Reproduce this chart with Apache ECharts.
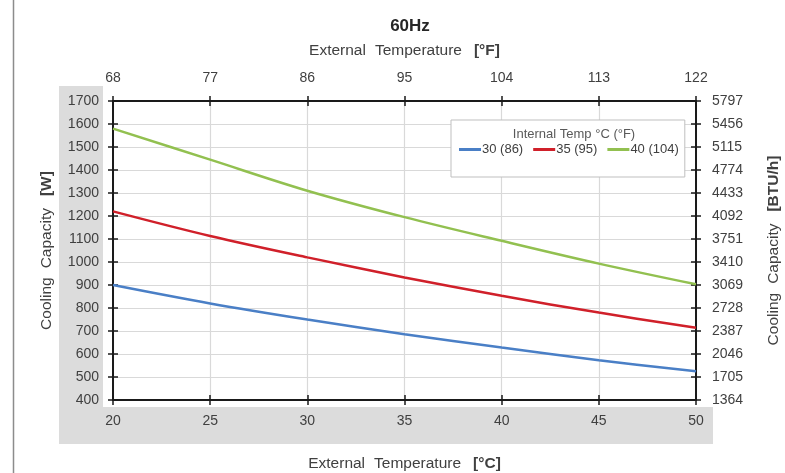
<!DOCTYPE html>
<html>
<head>
<meta charset="utf-8">
<script src="https://cdn.jsdelivr.net/npm/echarts@6/dist/echarts.min.js"></script>
<style>
html,body{margin:0;padding:0;background:#fff;}
#c{width:785px;height:473px;}
</style>
</head>
<body>
<div id="c"></div>
<script>
// Data
const tempC = [20, 25, 30, 35, 40, 45, 50];
const tempFLabels = ['68', '77', '86', '95', '104', '113', '122'];
const btuLabels = ['1364','1705','2046','2387','2728','3069','3410','3751','4092','4433','4774','5115','5456','5797'];
const series30 = [900, 820, 750, 686, 628, 573, 525];
const series35 = [1220, 1113, 1020, 933, 853, 780, 714];
const series40 = [1580, 1445, 1310, 1195, 1092, 993, 903];
const seriesNames = ['30 (86)', '35 (95)', '40 (104)'];
const seriesColors = ['#4a7fc6', '#d0202a', '#92c050'];

const FONT = 'Liberation Sans, Arial, sans-serif';
const textCol = '#404040';
const yMin = 400, yMax = 1700, yStep = 100;
const xMin = 20, xMax = 50, xStep = 5;

function pairs(vals){ return tempC.map((c,i)=>[c, vals[i]]); }

const chart = echarts.init(document.getElementById('c'), null, {renderer:'canvas'});

const axisLine = {show:true, lineStyle:{color:'#1a1a1a', width:2}};
const tickOut = {show:true, inside:false, length:5, lineStyle:{color:'#1a1a1a', width:1.5}};
const tickIn = {show:true, inside:true, length:5, lineStyle:{color:'#1a1a1a', width:1.5}};
const lbl = {color:textCol, fontFamily:FONT, fontSize:14};
const nameStyle = {
  color:textCol, fontFamily:FONT, fontSize:15.5,
  rich:{
    s:{fontFamily:FONT, fontSize:15.5, width:9},
    t:{fontFamily:FONT, fontSize:15.5, width:12},
    b:{fontFamily:FONT, fontSize:15.5, fontWeight:'bold', color:textCol}
  }
};

function xAx(pos, withLabels, inside, formatter){
  return {
    type:'value', position:pos, min:xMin, max:xMax, interval:xStep,
    axisLine: Object.assign({onZero:false}, axisLine),
    axisTick: inside ? tickIn : tickOut,
    axisLabel: withLabels ? Object.assign({show:true, margin: pos==='top'?16:14, formatter: formatter}, lbl) : {show:false},
    splitLine: {show:false}
  };
}
function yAx(pos, withLabels, inside, formatter){
  return {
    type:'value', position:pos, min:yMin, max:yMax, interval:yStep,
    axisLine: Object.assign({onZero:false}, axisLine),
    axisTick: inside ? tickIn : tickOut,
    axisLabel: withLabels ? Object.assign({show:true, margin: pos==='left'?14:16, formatter: formatter}, lbl) : {show:false},
    splitLine: {show:false}
  };
}

const xAxes = [
  Object.assign(xAx('bottom', true, false, v => String(v)), {
    name:'External{s| }Temperature{t| }{b|[°C]}', nameLocation:'middle', nameGap:56,
    nameTextStyle:nameStyle,
    splitLine:{show:true, lineStyle:{color:'#d9d9d9', width:1.2}}
  }),
  Object.assign(xAx('top', true, false, v => tempFLabels[Math.round((v - xMin)/xStep)]), {
    name:'External{s| }Temperature{t| }{b|[°F]}', nameLocation:'middle', nameGap:42,
    nameTextStyle:nameStyle
  }),
  xAx('bottom', false, true),
  xAx('top', false, true)
];
const yAxes = [
  Object.assign(yAx('left', true, false, v => String(v)), {
    name:'Cooling{s| }Capacity{t| }{b|[W]}', nameLocation:'middle', nameGap:58,
    nameTextStyle:nameStyle,
    splitLine:{show:true, lineStyle:{color:'#d9d9d9', width:1.2}}
  }),
  Object.assign(yAx('right', true, false, v => btuLabels[Math.round((v - yMin)/yStep)]), {
    name:'Cooling{s| }Capacity{t| }{b|[BTU/h]}', nameLocation:'middle', nameGap:70,
    nameTextStyle:nameStyle
  }),
  yAx('left', false, true),
  yAx('right', false, true)
];

const option = {
  backgroundColor:'#ffffff',
  animation:false,
  title:[
    {text:'60Hz', left:405, top:13, textAlign:'center',
     textStyle:{fontFamily:FONT, fontSize:17, fontWeight:'bold', color:'#262626'}},
    {text:'Internal Temp °C (°F)', left:569, top:123, textAlign:'center',
     textStyle:{fontFamily:FONT, fontSize:13, fontWeight:'normal', color:'#595959'}}
  ],
  graphic:[
    {type:'rect', z:-10, shape:{x:59, y:86, width:44, height:358}, style:{fill:'#dcdcdc'}},
    {type:'rect', z:-10, shape:{x:59, y:407, width:654, height:37}, style:{fill:'#dcdcdc'}},
    {type:'line', z:-10, shape:{x1:13.5, y1:0, x2:13.5, y2:473}, style:{stroke:'#8c8c8c', lineWidth:1.5}}
  ],
  grid:{left:113, right:89, top:101, bottom:73, containLabel:false, outerBoundsMode:'none',
        backgroundColor:'#fff', show:true, borderWidth:0},
  legend:{
    left:451, top:120, orient:'horizontal',
    data: seriesNames,
    icon:'rect', itemWidth:22, itemHeight:3, itemGap:10,
    borderColor:'#bfbfbf', borderWidth:1, backgroundColor:'#fff',
    padding:[23, 6, 21, 8],
    textStyle:{fontFamily:FONT, fontSize:13, color:'#404040', padding:[0,0,0,-4]}
  },
  xAxis: xAxes,
  yAxis: yAxes,
  series: [series30, series35, series40].map((vals, i) => ({
    name: seriesNames[i], type:'line', xAxisIndex:0, yAxisIndex:0,
    data: pairs(vals), smooth:0.35, symbol:'none',
    lineStyle:{color:seriesColors[i], width:2.5},
    itemStyle:{color:seriesColors[i]},
    z: 5
  }))
};
chart.setOption(option);
</script>
</body>
</html>
